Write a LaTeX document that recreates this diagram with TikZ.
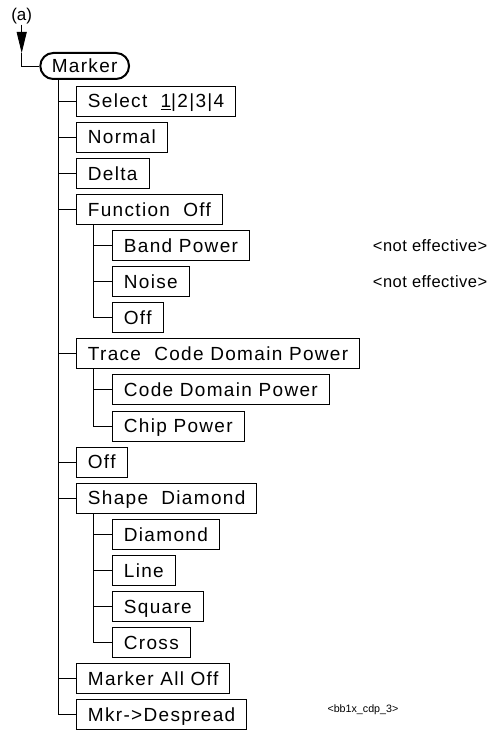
\documentclass[tikz,border=0pt]{standalone}
\usepackage{fontspec}
\setmainfont{Liberation Sans}
\newfontfamily\boxfont[LetterSpace=7]{Liberation Sans}
\newfontfamily\notefont[LetterSpace=3]{Liberation Sans}
\usetikzlibrary{arrows.meta,positioning,calc}
\tikzset{
  box/.style={draw=black,line width=0.8pt,anchor=west,minimum height=30pt,inner xsep=11.5pt,inner ysep=0pt,
    text height=13.6pt,text depth=0pt,font=\boxfont\fontsize{19}{22}\selectfont},
  hi/.style={line width=2pt,rounded corners=13pt,minimum height=26pt},
  link/.style={draw=black,line width=0.8pt},
  arr/.style={-{Triangle[length=21pt,width=10pt]},line width=0.8pt,draw=black},
  lbl/.style={anchor=west,inner sep=0pt,font=\notefont\fontsize{16.5}{19}\selectfont},
}
\begin{document}
\begin{tikzpicture}[x=1pt,y=-1pt]
\useasboundingbox (0,0) rectangle (489,733);
% entry point
\node[inner sep=0pt,font=\fontsize{17}{20}\selectfont] (lab) at (21.7,16.5) {(a)};
\coordinate (tip) at (21.7,53);
\node[box,hi] (mk) at (39.3,66) {Marker};
\draw[arr] (lab.south) -- (tip);
\draw[link] (tip) |- (mk.west);
\coordinate (trunk) at (58,0);
% first level
\node[box] (sel) at (76,101.0) {Select\ \ \underline{1}|2|3|4};
\node[box] (nrm) at (76,137.1) {Normal};
\node[box] (dlt) at (76,173.2) {Delta};
\node[box] (fnc) at (76,209.3) {Function\ \ Off};
\node[box] (bnd) at (112,245.4) {Band Power};
\node[box] (noi) at (112,281.5) {Noise};
\node[box] (fof) at (112,317.6) {Off};
\node[box] (trc) at (76,353.7) {Trace\ \ Code Domain Power};
\node[box] (cdp) at (112,389.8) {Code Domain Power};
\node[box] (chp) at (112,425.9) {Chip Power};
\node[box] (off) at (76,462.0) {Off};
\node[box] (shp) at (76,498.1) {Shape\ \ Diamond};
\node[box] (dia) at (112,534.2) {Diamond};
\node[box] (lin) at (112,570.3) {Line};
\node[box] (sqr) at (112,606.4) {Square};
\node[box] (crs) at (112,642.5) {Cross};
\node[box] (mao) at (76,678.6) {Marker All Off};
\node[box] (dsp) at (76,714.7) {Mkr->Despread};
% notes
\node[lbl] at (372.7,245.4) {<not effective>};
\node[lbl] at (372.7,281.5) {<not effective>};
\node[anchor=west,inner sep=0pt,font=\fontsize{10.7}{12}\selectfont] at (327.3,710) {<bb1x\_cdp\_3>};
% main trunk
\draw[link] (mk.south -| trunk) |- (dsp.west);
\foreach \n in {sel,nrm,dlt,fnc,trc,off,shp,mao}
  \draw[link] (\n.west) -- (\n.west -| trunk);
% sub trunks
\coordinate (fsub) at ([xshift=17.3pt]fnc.south west);
\coordinate (tsub) at ([xshift=17.3pt]trc.south west);
\coordinate (ssub) at ([xshift=17.3pt]shp.south west);
\draw[link] (fsub) |- (fof.west);
\draw[link] (bnd.west) -- (bnd.west -| fsub);
\draw[link] (noi.west) -- (noi.west -| fsub);
\draw[link] (tsub) |- (chp.west);
\draw[link] (cdp.west) -- (cdp.west -| tsub);
\draw[link] (ssub) |- (crs.west);
\foreach \n in {dia,lin,sqr}
  \draw[link] (\n.west) -- (\n.west -| ssub);
\end{tikzpicture}
\end{document}
